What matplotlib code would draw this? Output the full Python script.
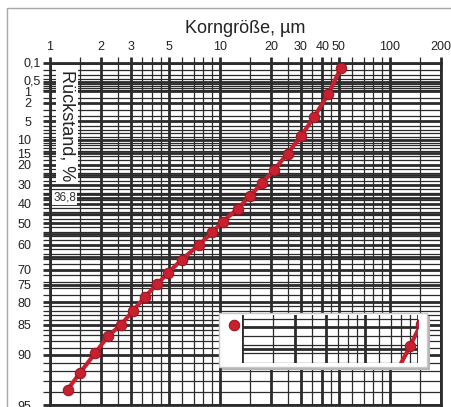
import numpy as np
import matplotlib
matplotlib.use("Agg")
import matplotlib.pyplot as plt
from matplotlib.ticker import FixedLocator, FixedFormatter, NullFormatter
from matplotlib.patches import Rectangle
from matplotlib.lines import Line2D

plt.rcParams['font.family'] = ['Liberation Sans', 'DejaVu Sans']

# ---- data ----
size_um = [1.27, 1.50, 1.84, 2.20, 2.61, 3.07, 3.62, 4.28, 4.97, 5.95, 7.52,
           9.01, 10.4, 12.7, 15.0, 17.8, 20.7, 25.0, 30.0, 35.9, 43.4, 51.5]
residue_pct = [93.8, 92.2, 89.8, 87.1, 85.1, 82.1, 78.5, 74.8, 71.0, 66.3, 60.1,
               54.4, 49.1, 42.6, 35.9, 28.9, 22.7, 15.2, 8.9, 4.1, 1.2, 0.16]

x_major = [1, 2, 3, 5, 10, 20, 30, 40, 50, 100, 200]
x_major_labels = ['1', '2', '3', '5', '10', '20', '30', '40', '50', '100', '200']
x_minor = [1.5, 2.5, 3.5, 4, 4.5, 6, 7, 8, 9, 15, 25, 35, 45, 60, 70, 80, 90, 150]

y_major = [0.1, 0.5, 1, 2, 5, 10, 15, 20, 25, 30, 35, 36.8, 40, 45, 50, 55,
           60, 65, 70, 75, 80, 85, 90, 95]
y_major_labels = ['', '', '1', '2', '5', '10', '15', '20', '', '30', '', '', '40',
                  '', '50', '', '60', '', '70', '75', '80', '85', '90', '95']
y_special = [0.1, 0.5]
y_special_labels = ['0,1', '0,5']
y_minor = [0.2, 0.3, 0.4, 0.6, 0.7, 0.8, 0.9, 1.5, 3, 4, 6, 7, 8, 9, 11, 12, 13,
           14, 16, 18, 22, 24, 26, 28, 32, 34, 38, 42, 44, 46, 48, 52, 54, 56,
           58, 62, 64, 66, 68, 72, 74, 76, 78, 81, 82, 83, 84, 86, 87, 88, 89,
           91, 92, 93, 94]

marker_label = '36,8'
x_title = 'Korngröße, µm'
y_title = 'Rückstand, %'

RED = '#c8202f'
RED_EDGE = '#9c1724'
GRID = '#2b2b2b'


def fwd(r):
    r = np.asarray(r, dtype=float)
    with np.errstate(all='ignore'):
        r = np.clip(r, 1e-9, 100 - 1e-9)
        return -np.log10(np.log(100.0 / r))


def inv(v):
    v = np.asarray(v, dtype=float)
    with np.errstate(all='ignore'):
        return 100.0 * np.exp(-10.0 ** (-v))


W, H = 452, 407
fig = plt.figure(figsize=(W / 100, H / 100), dpi=100)

# figure border
fig.add_artist(Rectangle((7 / W, -0.1), 1.2, 1 - 8 / H + 0.1, transform=fig.transFigure,
                         fill=False, ec='#a8a8a8', lw=1.0, clip_on=False))

ax = fig.add_axes([50 / W, 2 / H, 391 / W, 342 / H])


def style_grid(a):
    a.set_xscale('log')
    a.set_yscale('function', functions=(fwd, inv))
    a.xaxis.set_major_locator(FixedLocator(x_major))
    a.xaxis.set_minor_locator(FixedLocator(x_minor))
    a.yaxis.set_major_locator(FixedLocator(y_major))
    a.yaxis.set_minor_locator(FixedLocator(y_minor))
    a.xaxis.set_minor_formatter(NullFormatter())
    a.yaxis.set_minor_formatter(NullFormatter())
    a.grid(which='major', color=GRID, lw=2.0)
    a.grid(which='minor', color=GRID, lw=0.9)
    a.set_axisbelow(True)


style_grid(ax)
ax.set_xlim(1, 200)
ax.set_ylim(95, 0.1)
ax.xaxis.set_major_formatter(FixedFormatter(x_major_labels))
ax.yaxis.set_major_formatter(FixedFormatter(y_major_labels))

ax.xaxis.tick_top()
ax.tick_params(axis='x', which='both', top=True, bottom=False, labeltop=True,
               labelbottom=False, direction='out', length=4, color=GRID,
               labelsize=9, pad=3, labelcolor='#222222')
ax.tick_params(axis='y', which='both', left=True, direction='out', length=5,
               color=GRID, labelsize=9, pad=8.5, labelcolor='#222222')
ax.tick_params(which='major', width=2.0)
ax.tick_params(which='minor', width=0.9)
for s in ax.spines.values():
    s.set_linewidth(2.0)
    s.set_color(GRID)

ax.xaxis.set_label_position('top')
ax.set_xlabel(x_title, fontsize=13, labelpad=6, color='#222222')

for v, lab in zip(y_special, y_special_labels):
    ax.text(-0.023, v, lab, transform=ax.get_yaxis_transform(), ha='right',
            va='center', fontsize=9, color='#222222', clip_on=False)

ax.text(0.0435, 0.818, y_title, transform=ax.transAxes, rotation=-90,
        ha='center', va='center', fontsize=13, color='#222222', zorder=4,
        bbox=dict(fc='white', ec='none', pad=1.5))
ax.text(0.008, 36.8, marker_label, transform=ax.get_yaxis_transform(),
        ha='left', va='center', fontsize=8.5, color='#333333', zorder=4,
        bbox=dict(fc='white', ec='none', pad=0.8))

ax.plot(size_um, residue_pct, color=RED, lw=3.0, marker='o', ms=7.5,
        mfc=RED, mec=RED_EDGE, mew=0.8, zorder=3, solid_capstyle='round')

# legend-like box
ax.add_patch(Rectangle((222 / W, (H - 370) / H), 208 / W, 54 / H,
                       transform=fig.transFigure, fc='#b4b4b4', ec='none',
                       zorder=4, clip_on=False))
ax.add_patch(Rectangle((219 / W, (H - 367) / H), 208 / W, 54 / H,
                       transform=fig.transFigure, fc='white', ec='#c8c8c8',
                       lw=1.0, zorder=4.2, clip_on=False))
leg = ax.legend(handles=[Line2D([], [], ls='none', marker='o', ms=7.5, mfc=RED,
                                mec=RED_EDGE, mew=0.8)],
                labels=[''], loc='center',
                bbox_to_anchor=(234 / W, 1 - 326 / H),
                bbox_transform=fig.transFigure, frameon=False,
                handlelength=1.0, handletextpad=0, borderpad=0, borderaxespad=0)
leg.set_zorder(5)

ins = fig.add_axes([242 / W, (H - 363) / H, 176 / W, 48 / H])
style_grid(ins)
ins.set_xlim(1, 10)
ins.set_ylim(58.1, 47.0)
ins.tick_params(which='both', left=False, bottom=False, labelleft=False,
                labelbottom=False)
ins.xaxis.set_major_formatter(NullFormatter())
ins.yaxis.set_major_formatter(NullFormatter())
for s in ins.spines.values():
    s.set_visible(False)
ins.plot(size_um, residue_pct, color=RED, lw=3.0, marker='o', ms=7.5,
         mfc=RED, mec=RED_EDGE, mew=0.8, zorder=3)

fig.savefig('out.png', dpi=100)
